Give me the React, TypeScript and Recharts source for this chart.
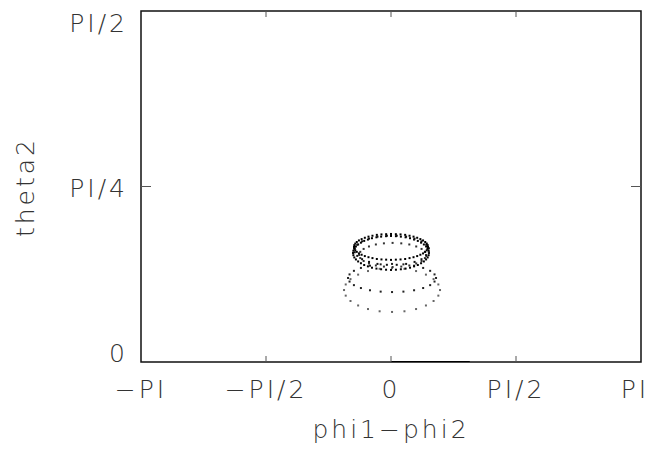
import { ReferenceArea, Scatter, ScatterChart, XAxis, YAxis } from "recharts";

const PI = Math.PI;

// tick positions and the labels printed under / beside them
const xTicks = [-PI, -PI / 2, 0, PI / 2, PI];
const xTickLabels = ["\u2212PI", "\u2212PI/2", "0", "PI/2", "PI"];
const yTicks = [0, PI / 4, PI / 2];
const yTickLabels = ["0", "PI/4", "PI/2"];

// rings of points (phi1-phi2, theta2)
const ringTop = [
  [0.465, 0.515], [0.461, 0.523], [0.449, 0.53], [0.43, 0.537], [0.403, 0.544], [0.369, 0.55],
  [0.329, 0.556], [0.283, 0.561], [0.233, 0.565], [0.178, 0.569], [0.12, 0.571], [0.061, 0.572],
  [0, 0.573], [-0.061, 0.572], [-0.12, 0.571], [-0.178, 0.569], [-0.233, 0.565], [-0.283, 0.561],
  [-0.329, 0.556], [-0.369, 0.55], [-0.403, 0.544], [-0.43, 0.537], [-0.449, 0.53], [-0.461, 0.523],
  [-0.465, 0.515], [-0.461, 0.507], [-0.449, 0.5], [-0.43, 0.493], [-0.403, 0.486], [-0.369, 0.48],
  [-0.329, 0.474], [-0.283, 0.469], [-0.233, 0.465], [-0.178, 0.461], [-0.12, 0.459], [-0.061, 0.458],
  [0, 0.457], [0.061, 0.458], [0.12, 0.459], [0.178, 0.461], [0.233, 0.465], [0.283, 0.469],
  [0.329, 0.474], [0.369, 0.48], [0.403, 0.486], [0.43, 0.493], [0.449, 0.5], [0.461, 0.507],
];
const ringMid = [
  [0.476, 0.509], [0.444, 0.525], [0.383, 0.54], [0.296, 0.552], [0.19, 0.561], [0.072, 0.565],
  [-0.052, 0.565], [-0.17, 0.561], [-0.276, 0.552], [-0.363, 0.54], [-0.424, 0.525], [-0.456, 0.509],
  [-0.456, 0.491], [-0.424, 0.475], [-0.363, 0.46], [-0.276, 0.448], [-0.17, 0.439], [-0.052, 0.435],
  [0.072, 0.435], [0.19, 0.439], [0.296, 0.448], [0.383, 0.46], [0.444, 0.475], [0.476, 0.491],
];
const ringUpper = [
  [0.477, 0.488], [0.473, 0.498], [0.461, 0.508], [0.441, 0.517], [0.413, 0.526], [0.378, 0.534],
  [0.337, 0.542], [0.29, 0.548], [0.239, 0.554], [0.183, 0.558], [0.124, 0.561], [0.062, 0.563],
  [0, 0.564], [-0.062, 0.563], [-0.124, 0.561], [-0.183, 0.558], [-0.239, 0.554], [-0.29, 0.548],
  [-0.337, 0.542], [-0.378, 0.534], [-0.413, 0.526], [-0.441, 0.517], [-0.461, 0.508], [-0.473, 0.498],
  [-0.477, 0.488], [-0.473, 0.478], [-0.461, 0.468], [-0.441, 0.459], [-0.413, 0.45], [-0.378, 0.442],
  [-0.337, 0.434], [-0.29, 0.428], [-0.239, 0.422], [-0.183, 0.418], [-0.124, 0.415], [-0.062, 0.413],
  [0, 0.412], [0.062, 0.413], [0.124, 0.415], [0.183, 0.418], [0.239, 0.422], [0.29, 0.428],
  [0.337, 0.434], [0.378, 0.442], [0.413, 0.45], [0.441, 0.459], [0.461, 0.468], [0.473, 0.478],
];
const ringInner = [
  [0.44, 0.479], [0.426, 0.493], [0.384, 0.506], [0.317, 0.517], [0.23, 0.526], [0.129, 0.531],
  [0.02, 0.533], [-0.089, 0.531], [-0.19, 0.526], [-0.277, 0.517], [-0.344, 0.506], [-0.386, 0.493],
  [-0.4, 0.479], [-0.386, 0.465], [-0.344, 0.452], [-0.277, 0.441], [-0.19, 0.432], [-0.089, 0.427],
  [0.02, 0.425], [0.129, 0.427], [0.23, 0.432], [0.317, 0.441], [0.384, 0.452], [0.426, 0.465],
];
const ringLower = [
  [0.566, 0.376], [0.547, 0.392], [0.492, 0.408], [0.404, 0.421], [0.29, 0.431], [0.156, 0.437],
  [0.013, 0.439], [-0.13, 0.437], [-0.264, 0.431], [-0.378, 0.421], [-0.466, 0.408], [-0.521, 0.392],
  [-0.54, 0.376], [-0.521, 0.36], [-0.466, 0.344], [-0.378, 0.331], [-0.264, 0.321], [-0.13, 0.315],
  [0.013, 0.313], [0.156, 0.315], [0.29, 0.321], [0.404, 0.331], [0.492, 0.344], [0.547, 0.36],
];
const ringBottom = [
  [0.616, 0.322], [0.595, 0.347], [0.535, 0.371], [0.439, 0.391], [0.315, 0.407], [0.169, 0.417],
  [0.013, 0.42], [-0.143, 0.417], [-0.289, 0.407], [-0.413, 0.391], [-0.509, 0.371], [-0.569, 0.347],
  [-0.59, 0.322], [-0.569, 0.297], [-0.509, 0.273], [-0.413, 0.253], [-0.289, 0.237], [-0.143, 0.227],
  [0.013, 0.224], [0.169, 0.227], [0.315, 0.237], [0.439, 0.253], [0.535, 0.273], [0.595, 0.297],
];
// points lying on theta2 = 0
const axisRun = [
  [0, 0],
  [0.99, 0],
];

const PLOT_LEFT = 141;
const PLOT_RIGHT = 641;
const PLOT_TOP = 11;
const PLOT_BOTTOM = 362;

const FONT = {
  fontFamily: "'DejaVu Sans', sans-serif",
  fontWeight: 200,
  fontSize: 25,
  letterSpacing: 3,
  fill: "#333",
};

const toPoints = (rows: number[][]) => rows.map(([phi, theta]) => ({ phi, theta }));

function dotShape(color: string) {
  return (props: any) => (
    <rect x={props.cx - 1} y={props.cy - 1} width={2} height={2} fill={color} />
  );
}

function XTick({ x, payload }: any) {
  const i = xTicks.findIndex((t) => Math.abs(t - payload.value) < 1e-9);
  const inner = Math.abs(payload.value) < PI - 1e-6;
  return (
    <g>
      {inner && <line x1={x} x2={x} y1={PLOT_BOTTOM} y2={PLOT_BOTTOM - 6} stroke="#555" />}
      {inner && <line x1={x} x2={x} y1={PLOT_TOP} y2={PLOT_TOP + 6} stroke="#555" />}
      <text x={payload.value >= PI - 1e-6 ? x - 6 : x} y={PLOT_BOTTOM + 36} textAnchor="middle" {...FONT}>
        {xTickLabels[i]}
      </text>
    </g>
  );
}

function YTick({ y, payload }: any) {
  const i = yTicks.findIndex((t) => Math.abs(t - payload.value) < 1e-9);
  const inner = payload.value > 1e-6 && payload.value < PI / 2 - 1e-6;
  const shift = payload.value >= PI / 2 - 1e-6 ? 21 : payload.value < 1e-6 ? 0 : 10;
  return (
    <g>
      {inner && <line x1={PLOT_LEFT} x2={PLOT_LEFT + 10} y1={y} y2={y} stroke="#555" />}
      {inner && <line x1={PLOT_RIGHT - 10} x2={PLOT_RIGHT} y1={y} y2={y} stroke="#555" />}
      <text x={PLOT_LEFT - 13} y={y + shift} textAnchor="end" {...FONT}>
        {yTickLabels[i]}
      </text>
    </g>
  );
}

function XTitle() {
  return (
    <text x={391} y={438} textAnchor="middle" {...FONT}>
      phi1{"\u2212"}phi2
    </text>
  );
}

function YTitle() {
  return (
    <text x={34} y={187} transform="rotate(-90 34 187)" textAnchor="middle" {...FONT}>
      theta2
    </text>
  );
}

export default function App() {
  return (
    <div style={{ position: "absolute", left: 0, top: 0, width: 652, height: 457, background: "#fff" }}>
      <ScatterChart width={652} height={457} margin={{ top: PLOT_TOP, right: 652 - PLOT_RIGHT, left: 0, bottom: 0 }}>
        <XAxis
          type="number"
          dataKey="phi"
          domain={[-PI, PI]}
          ticks={xTicks}
          height={457 - PLOT_BOTTOM}
          axisLine={false}
          tickLine={false}
          tickSize={0}
          tickMargin={0}
          tick={<XTick />}
          interval={0}
          allowDataOverflow
          label={{ value: "phi1\u2212phi2", content: <XTitle /> }}
        />
        <YAxis
          type="number"
          dataKey="theta"
          domain={[0, PI / 2]}
          ticks={yTicks}
          width={PLOT_LEFT}
          axisLine={false}
          tickLine={false}
          tickSize={0}
          tickMargin={0}
          tick={<YTick />}
          interval={0}
          allowDataOverflow
          label={{ value: "theta2", content: <YTitle /> }}
        />
        <ReferenceArea x1={-PI} x2={PI} y1={0} y2={PI / 2} fill="none" stroke="#111" strokeWidth={1.5} fillOpacity={0} />
        <Scatter data={toPoints(ringBottom)} shape={dotShape("#666")} isAnimationActive={false} />
        <Scatter data={toPoints(ringLower)} shape={dotShape("#222")} isAnimationActive={false} />
        <Scatter data={toPoints(ringInner)} shape={dotShape("#333")} isAnimationActive={false} />
        <Scatter data={toPoints(ringUpper)} shape={dotShape("#000")} isAnimationActive={false} />
        <Scatter data={toPoints(ringMid)} shape={dotShape("#111")} isAnimationActive={false} />
        <Scatter data={toPoints(ringTop)} shape={dotShape("#000")} isAnimationActive={false} />
        <Scatter
          data={toPoints(axisRun)}
          line={{ stroke: "#000", strokeWidth: 2 }}
          shape={() => <g />}
          isAnimationActive={false}
        />
      </ScatterChart>
    </div>
  );
}
